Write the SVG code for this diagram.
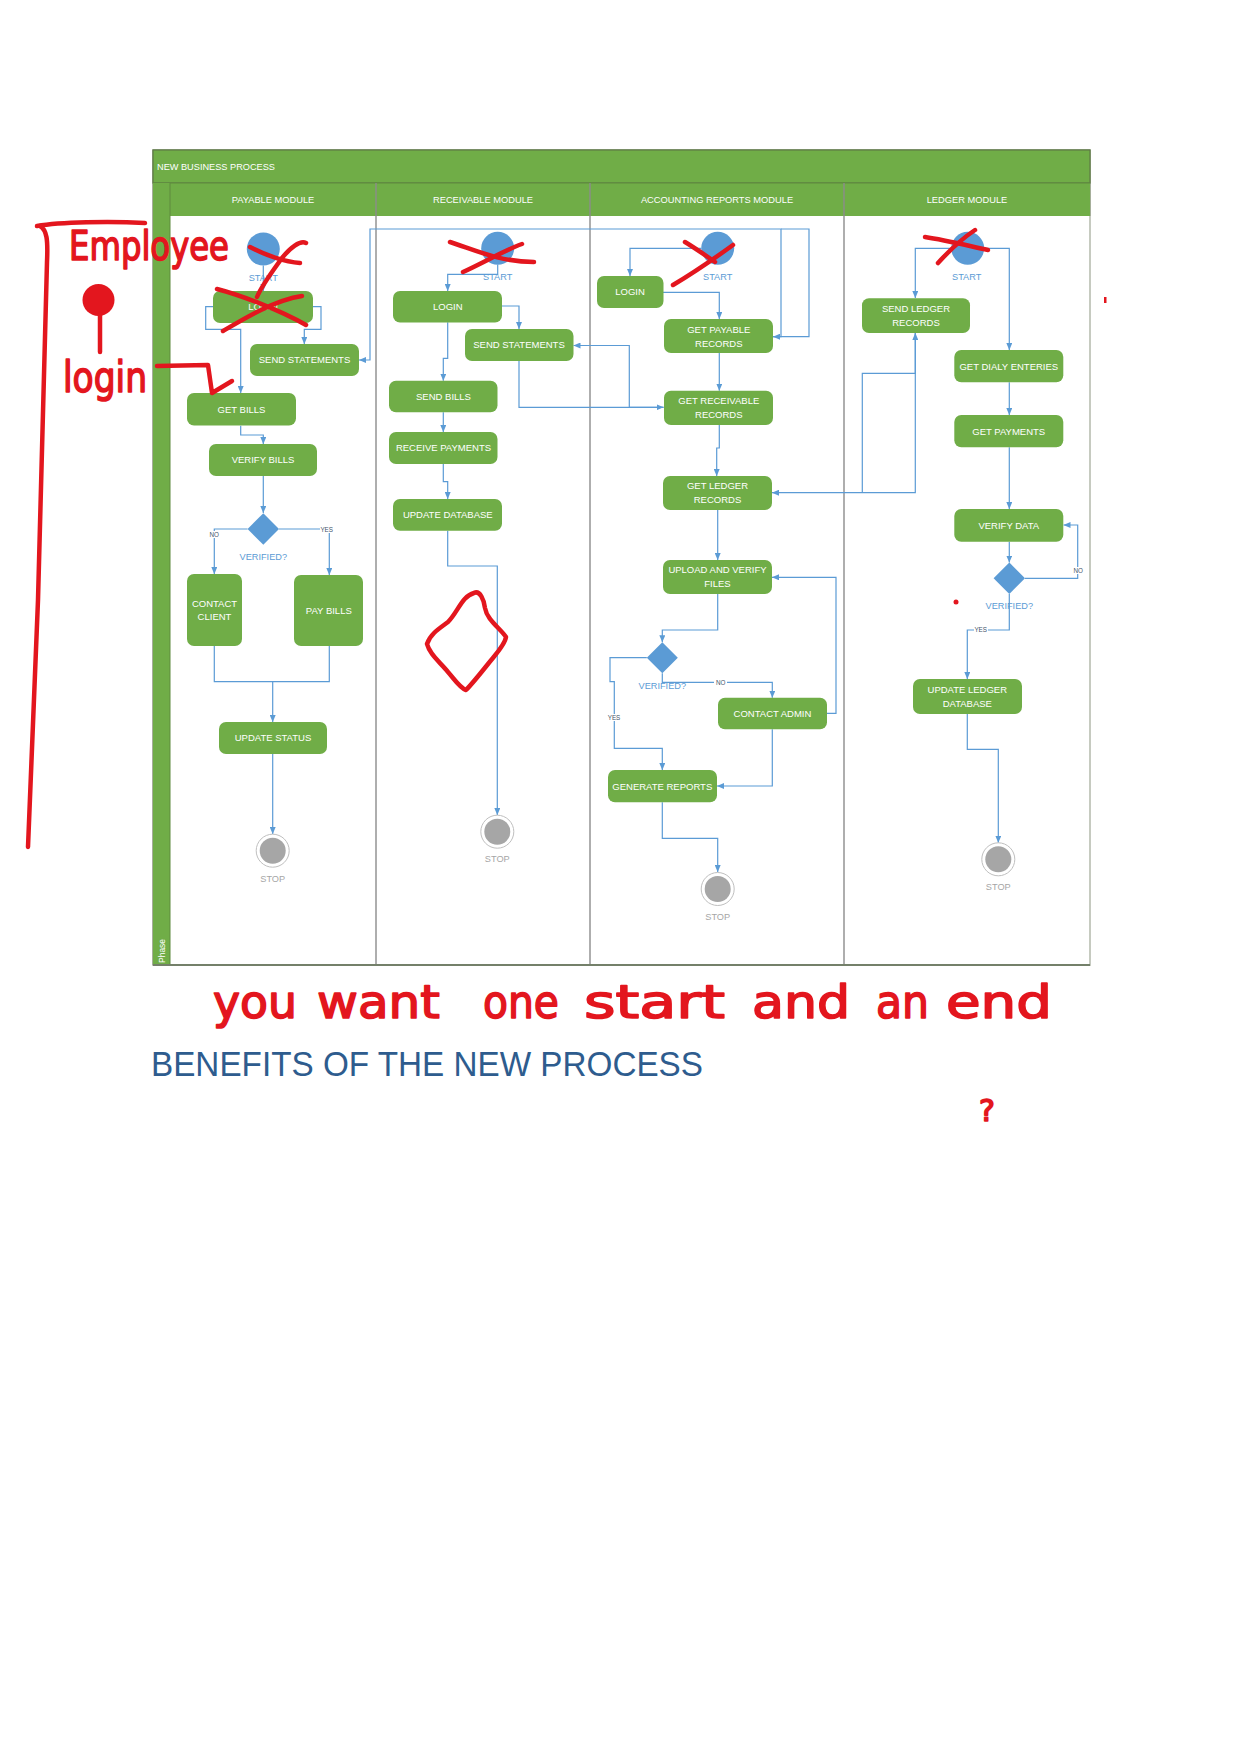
<svg xmlns="http://www.w3.org/2000/svg" width="1241" height="1754" viewBox="0 0 1241 1754">
<defs>
<marker id="arr" markerUnits="userSpaceOnUse" markerWidth="7" markerHeight="6" refX="7" refY="3" orient="auto">
<path d="M0,0 L7,3 L0,6 Z" fill="#5B9BD5"/>
</marker>
<style>
.node rect{fill:#70AD47;}
.nt{font-family:"Liberation Sans",Arial,sans-serif;font-size:9.5px;fill:#FFFFFF;text-anchor:middle;}
.hdr{font-family:"Liberation Sans",Arial,sans-serif;font-size:9.3px;fill:#FFFFFF;text-anchor:middle;}
.start circle{fill:#5B9BD5;}
.lbl{font-family:"Liberation Sans",Arial,sans-serif;font-size:9.2px;fill:#5B9BD5;text-anchor:middle;}
.stoplbl{font-family:"Liberation Sans",Arial,sans-serif;font-size:9.2px;fill:#A6A6A6;text-anchor:middle;}
.outer{fill:#FFFFFF;stroke:#BFBFBF;stroke-width:1;}
.inner{fill:#A6A6A6;}
.dec polygon{fill:#5B9BD5;}
.conn path{fill:none;stroke:#5B9BD5;stroke-width:1.2;}
.arw{marker-end:url(#arr);}
.yn{font-family:"Liberation Sans",Arial,sans-serif;font-size:6.3px;fill:#44546A;text-anchor:middle;}
.red{fill:none;stroke:#E3161E;stroke-width:4.5;stroke-linecap:round;stroke-linejoin:round;}
.hw{font-family:"DejaVu Sans",sans-serif;font-weight:normal;fill:#E3161E;stroke:#E3161E;stroke-width:1.6;stroke-linejoin:round;}
</style>
</defs>
<rect width="1241" height="1754" fill="#FFFFFF"/>

<g id="frame">
<rect x="153" y="150" width="937" height="815" fill="#FFFFFF" stroke="#6B7A58" stroke-width="1.2"/>
<rect x="153" y="150" width="937" height="33" fill="#70AD47" stroke="#5E7A45" stroke-width="1.2"/>
<rect x="170" y="183" width="920" height="33" fill="#70AD47"/>
<line x1="153" y1="183" x2="1090" y2="183" stroke="#5E8A3E" stroke-width="1.2"/>
<rect x="153" y="183" width="17" height="782" fill="#70AD47"/>
<line x1="170" y1="183" x2="170" y2="965" stroke="#5E8A3E" stroke-width="1"/>
<line x1="376" y1="183" x2="376" y2="965" stroke="#8C8C8C" stroke-width="1.4"/>
<line x1="590" y1="183" x2="590" y2="965" stroke="#8C8C8C" stroke-width="1.4"/>
<line x1="844" y1="183" x2="844" y2="965" stroke="#8C8C8C" stroke-width="1.4"/>
<line x1="1090" y1="216" x2="1090" y2="965" stroke="#E6E6E6" stroke-width="1"/>
<line x1="153" y1="965" x2="1090" y2="965" stroke="#74806A" stroke-width="2"/>
<text x="157" y="170" font-family="Liberation Sans, Arial, sans-serif" font-size="9.2" fill="#FFFFFF">NEW BUSINESS PROCESS</text>
<text class="hdr" x="273" y="202.5">PAYABLE MODULE</text>
<text class="hdr" x="483" y="202.5">RECEIVABLE MODULE</text>
<text class="hdr" x="717" y="202.5">ACCOUNTING REPORTS MODULE</text>
<text class="hdr" x="967" y="202.5">LEDGER MODULE</text>
<text transform="translate(165,963) rotate(-90)" font-family="Liberation Sans, Arial, sans-serif" font-size="8.5" fill="#FFFFFF">Phase</text>
</g>

<g id="connectors" class="conn">
<path class="arw" d="M263.3,265.5 V291"/>
<path class="arw" d="M213,306.7 H205.7 V329.3 H240.7 V393"/>
<path class="arw" d="M313,306.7 H321 V329.3 H304.3 V344"/>
<path class="arw" d="M240.7,425.7 V435 H263.3 V444"/>
<path class="arw" d="M263.3,476 V513"/>
<path class="arw" d="M247.6,529 H214.3 V574"/>
<path class="arw" d="M279,529 H329.3 V575"/>
<path d="M214.3,646 V681.7 H329.3 V646"/>
<path class="arw" d="M272.7,681.7 V722"/>
<path class="arw" d="M272.7,754 V834"/>
<path class="arw" d="M773,336.7 H781 V229 H370 V360 H359"/>
<path class="arw" d="M781,229 H809 V336.7 H773"/>
<path class="arw" d="M497.7,264.5 V274.3 H447.7 V291"/>
<path class="arw" d="M502,306 H519 V329"/>
<path class="arw" d="M447.7,322.3 V358.3 H443.3 V380.7"/>
<path class="arw" d="M443.3,412.3 V432"/>
<path class="arw" d="M443.3,464 V481.7 H447.7 V499"/>
<path class="arw" d="M447.7,530.7 V566 H497.3 V815"/>
<path class="arw" d="M519,361 V407.3 H663.5"/>
<path class="arw" d="M663.5,407.3 H629.3 V345.5 H573.5"/>
<path class="arw" d="M701,248.3 H630 V276"/>
<path class="arw" d="M663,292.3 H719.3 V319"/>
<path class="arw" d="M719.3,353 V390.7"/>
<path class="arw" d="M719.3,425 V448 H716.7 V476"/>
<path class="arw" d="M717.7,510 V560"/>
<path class="arw" d="M717.7,594 V630 H662.3 V642.2"/>
<path class="arw" d="M662.3,673.2 V682.3 H772.3 V697.7"/>
<path class="arw" d="M826.7,713.3 H836 V577.3 H772"/>
<path class="arw" d="M646.8,657.7 H610 V681.7 H614.3 V748.3 H662.3 V770"/>
<path class="arw" d="M772.3,729.3 V786 H717"/>
<path class="arw" d="M662.3,802.3 V838.3 H717.7 V872"/>
<path class="arw" d="M915.3,333 V492.7 H772"/>
<path class="arw" d="M862.3,492.7 V373.3 H915.3 V333"/>
<path class="arw" d="M951.5,248.3 H915.3 V298"/>
<path class="arw" d="M984,248.3 H1009.3 V350"/>
<path class="arw" d="M1009.3,382.3 V415"/>
<path class="arw" d="M1009.3,447.3 V509"/>
<path class="arw" d="M1009.3,541.7 V562.6"/>
<path class="arw" d="M1025,578.3 H1077.7 V525 H1063.5"/>
<path class="arw" d="M1009.3,594 V630 H967.3 V679"/>
<path class="arw" d="M967.3,714 V749.3 H998.3 V842.7"/>
<g id="connector-labels">
<rect x="208" y="531" width="13" height="7" fill="#FFFFFF"/>
<text class="yn" x="214.3" y="536.8">NO</text>
<rect x="320" y="526" width="14" height="7" fill="#FFFFFF"/>
<text class="yn" x="326.7" y="531.5">YES</text>
<rect x="714" y="679" width="13" height="7" fill="#FFFFFF"/>
<text class="yn" x="720.7" y="684.8">NO</text>
<rect x="607" y="714" width="14" height="7" fill="#FFFFFF"/>
<text class="yn" x="614" y="719.5">YES</text>
<rect x="1072" y="567" width="13" height="7" fill="#FFFFFF"/>
<text class="yn" x="1078.3" y="573.2">NO</text>
<rect x="974" y="626" width="14" height="7" fill="#FFFFFF"/>
<text class="yn" x="980.7" y="631.5">YES</text>
</g>
</g>

<g id="start_payable" class="start"><circle cx="263.3" cy="249" r="16.5"/><text class="lbl" x="263.3" y="280.5">START</text></g>
<g id="login_payable" class="node"><rect x="213" y="291" width="100" height="32" rx="7"/><text class="nt" x="263" y="310.3">LOGIN</text></g>
<g id="send_statements_payable" class="node"><rect x="250" y="344" width="109" height="32" rx="7"/><text class="nt" x="304.5" y="363.3">SEND STATEMENTS</text></g>
<g id="get_bills" class="node"><rect x="187" y="393" width="109" height="32.5" rx="7"/><text class="nt" x="241.5" y="412.5">GET BILLS</text></g>
<g id="verify_bills" class="node"><rect x="209" y="444" width="108" height="32" rx="7"/><text class="nt" x="263" y="463.3">VERIFY BILLS</text></g>
<g id="decision_payable" class="dec"><polygon points="263.3,513.3 279,529 263.3,544.7 247.6,529"/><text class="lbl" x="263.3" y="559.5">VERIFIED?</text></g>
<g id="contact_client" class="node"><rect x="187" y="574" width="55" height="72" rx="7"/><text class="nt" x="214.5" y="606.5">CONTACT</text><text class="nt" x="214.5" y="620">CLIENT</text></g>
<g id="pay_bills" class="node"><rect x="294" y="575" width="69" height="71" rx="7"/><text class="nt" x="328.8" y="613.8">PAY BILLS</text></g>
<g id="update_status" class="node"><rect x="219" y="722" width="108" height="32" rx="7"/><text class="nt" x="273" y="741.3">UPDATE STATUS</text></g>
<g id="stop_payable"><circle class="outer" cx="272.7" cy="850.7" r="16.5"/><circle class="inner" cx="272.7" cy="850.7" r="13"/><text class="stoplbl" x="272.7" y="881.5">STOP</text></g>

<g id="start_receivable" class="start"><circle cx="497.7" cy="248.3" r="16.5"/><text class="lbl" x="497.7" y="279.8">START</text></g>
<g id="login_receivable" class="node"><rect x="393" y="291" width="109" height="31.5" rx="7"/><text class="nt" x="447.8" y="310">LOGIN</text></g>
<g id="send_statements_receivable" class="node"><rect x="465" y="329" width="108.5" height="32" rx="7"/><text class="nt" x="519" y="348.3">SEND STATEMENTS</text></g>
<g id="send_bills" class="node"><rect x="389" y="380.7" width="108.5" height="31.6" rx="7"/><text class="nt" x="443.5" y="399.8">SEND BILLS</text></g>
<g id="receive_payments" class="node"><rect x="389" y="432" width="108.5" height="32" rx="7"/><text class="nt" x="443.5" y="451.3">RECEIVE PAYMENTS</text></g>
<g id="update_database" class="node"><rect x="393" y="499" width="109" height="31.7" rx="7"/><text class="nt" x="447.8" y="518.3">UPDATE DATABASE</text></g>
<g id="stop_receivable"><circle class="outer" cx="497.3" cy="831.7" r="16.5"/><circle class="inner" cx="497.3" cy="831.7" r="13"/><text class="stoplbl" x="497.3" y="862.3">STOP</text></g>

<g id="start_accounting" class="start"><circle cx="717.7" cy="248.3" r="16.5"/><text class="lbl" x="717.7" y="279.8">START</text></g>
<g id="login_accounting" class="node"><rect x="597" y="276" width="66.5" height="32" rx="7"/><text class="nt" x="630" y="295.3">LOGIN</text></g>
<g id="get_payable_records" class="node"><rect x="664" y="319" width="109" height="34" rx="7"/><text class="nt" x="718.8" y="333">GET PAYABLE</text><text class="nt" x="718.8" y="346.5">RECORDS</text></g>
<g id="get_receivable_records" class="node"><rect x="664" y="390.7" width="109" height="34.3" rx="7"/><text class="nt" x="718.8" y="404">GET RECEIVABLE</text><text class="nt" x="718.8" y="418">RECORDS</text></g>
<g id="get_ledger_records" class="node"><rect x="663" y="476" width="109" height="34" rx="7"/><text class="nt" x="717.5" y="489.3">GET LEDGER</text><text class="nt" x="717.5" y="503.3">RECORDS</text></g>
<g id="upload_verify_files" class="node"><rect x="663" y="560" width="109" height="34" rx="7"/><text class="nt" x="717.5" y="573.3">UPLOAD AND VERIFY</text><text class="nt" x="717.5" y="587.3">FILES</text></g>
<g id="decision_accounting" class="dec"><polygon points="662.3,642.2 677.8,657.7 662.3,673.2 646.8,657.7"/><text class="lbl" x="662.3" y="689">VERIFIED?</text></g>
<g id="contact_admin" class="node"><rect x="718" y="697.7" width="109" height="31.6" rx="7"/><text class="nt" x="772.5" y="716.8">CONTACT ADMIN</text></g>
<g id="generate_reports" class="node"><rect x="608" y="770" width="109" height="32.3" rx="7"/><text class="nt" x="662.3" y="789.5">GENERATE REPORTS</text></g>
<g id="stop_accounting"><circle class="outer" cx="717.7" cy="889" r="16.5"/><circle class="inner" cx="717.7" cy="889" r="13"/><text class="stoplbl" x="717.7" y="919.8">STOP</text></g>

<g id="start_ledger" class="start"><circle cx="967.7" cy="248.3" r="16.5"/><text class="lbl" x="966.7" y="279.8">START</text></g>
<g id="send_ledger_records" class="node"><rect x="862" y="298.3" width="108" height="34.7" rx="7"/><text class="nt" x="916" y="311.5">SEND LEDGER</text><text class="nt" x="916" y="325.5">RECORDS</text></g>
<g id="get_dialy_enteries" class="node"><rect x="954.3" y="350" width="109" height="32.3" rx="7"/><text class="nt" x="1008.8" y="369.5">GET DIALY ENTERIES</text></g>
<g id="get_payments" class="node"><rect x="954.3" y="415" width="109" height="32.3" rx="7"/><text class="nt" x="1008.8" y="434.5">GET PAYMENTS</text></g>
<g id="verify_data" class="node"><rect x="954.3" y="509" width="109" height="32.7" rx="7"/><text class="nt" x="1008.8" y="528.7">VERIFY DATA</text></g>
<g id="decision_ledger" class="dec"><polygon points="1009.3,562.6 1025,578.3 1009.3,594 993.6,578.3"/><text class="lbl" x="1009.3" y="609.3">VERIFIED?</text></g>
<g id="update_ledger_database" class="node"><rect x="913" y="679" width="109" height="35" rx="7"/><text class="nt" x="967.3" y="693.3">UPDATE LEDGER</text><text class="nt" x="967.3" y="707">DATABASE</text></g>
<g id="stop_ledger"><circle class="outer" cx="998.3" cy="859.3" r="16.5"/><circle class="inner" cx="998.3" cy="859.3" r="13"/><text class="stoplbl" x="998.3" y="890">STOP</text></g>

<g id="annotations">
<path class="red" d="M250,247 C265,255 285,262 300,263"/>
<path class="red" d="M306,243 C300,240 290,248 282,258 C272,272 262,285 257,297"/>
<path class="red" d="M217,289 C240,295 280,310 306,325"/>
<path class="red" d="M223,331 C245,318 275,300 302,296"/>
<path class="red" d="M450,242 C475,250 500,262 534,262"/>
<path class="red" d="M463,272 C485,262 505,250 522,244"/>
<path class="red" d="M685,242 C695,248 705,255 715,262"/>
<path class="red" d="M733,245 C715,258 695,272 673,285"/>
<path class="red" d="M925,237 C945,240 965,245 988,250"/>
<path class="red" d="M975,230 C960,240 948,252 938,263"/>
<path class="red" d="M474,593 C480,590 484,600 485,608 C487,620 500,628 506,637 C505,645 495,655 488,664 C480,674 472,684 466,690 C460,688 455,680 448,672 C440,662 430,655 427,644 C430,634 440,628 448,622 C458,612 462,596 474,593 Z"/>
<path class="red" d="M37,226 C60,222 110,221 145,223" stroke-width="4"/>
<path class="red" d="M40,226 C47,230 48,240 47,262 L38,600 L28,847" stroke-width="4"/>
<circle cx="98.5" cy="300" r="16" fill="#E3161E"/>
<path class="red" d="M100,314 L100,352"/>
<path class="red" d="M157,366 L208,365 L212,393 L232,381"/>
<rect x="1104" y="297" width="2.5" height="6" fill="#E3161E"/>
<circle cx="956" cy="602" r="2.5" fill="#E3161E"/>
<text class="hw" x="69" y="260" font-size="40" textLength="160" lengthAdjust="spacingAndGlyphs">Employee</text>
<text class="hw" x="63" y="392" font-size="42" textLength="84" lengthAdjust="spacingAndGlyphs">login</text>
<text class="hw" x="213" y="1018" font-size="46" textLength="84" lengthAdjust="spacingAndGlyphs">you</text>
<text class="hw" x="317" y="1018" font-size="46" textLength="123" lengthAdjust="spacingAndGlyphs">want</text>
<text class="hw" x="483" y="1018" font-size="46" textLength="76" lengthAdjust="spacingAndGlyphs">one</text>
<text class="hw" x="584" y="1018" font-size="46" textLength="141" lengthAdjust="spacingAndGlyphs">start</text>
<text class="hw" x="752" y="1018" font-size="46" textLength="98" lengthAdjust="spacingAndGlyphs">and</text>
<text class="hw" x="876" y="1018" font-size="46" textLength="53" lengthAdjust="spacingAndGlyphs">an</text>
<text class="hw" x="946" y="1018" font-size="46" textLength="106" lengthAdjust="spacingAndGlyphs">end</text>
<text class="hw" x="979" y="1121" font-size="30">?</text>
</g>

<g id="benefits_heading">
<text x="151" y="1076" font-family="Liberation Sans, Arial, sans-serif" font-size="35" fill="#2E5C8E" textLength="552" lengthAdjust="spacingAndGlyphs">BENEFITS OF THE NEW PROCESS</text>
</g>
</svg>
